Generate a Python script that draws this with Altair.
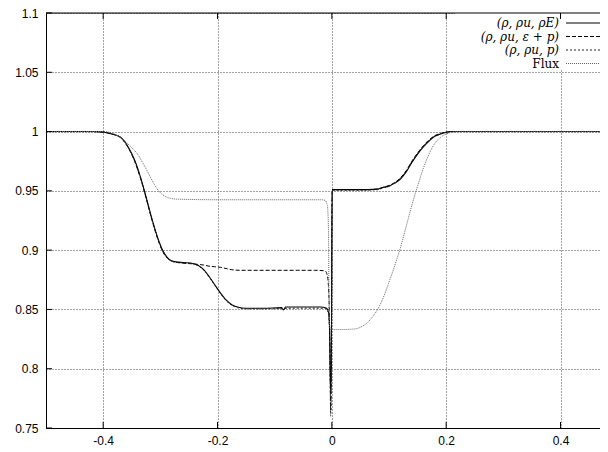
import altair as alt
import pandas as pd

# ---------------- data ----------------
series_names = ["(ρ, ρu, ρE)", "(ρ, ρu, ε + p)", "(ρ, ρu, p)", "Flux"]

s1_x = [-0.5, -0.42, -0.4, -0.385, -0.37, -0.355, -0.345, -0.335, -0.325, -0.315,
        -0.305, -0.295, -0.285, -0.275, -0.26, -0.245, -0.235, -0.225, -0.215, -0.205,
        -0.195, -0.185, -0.175, -0.165, -0.15, -0.12, -0.088, -0.085, -0.083, -0.081,
        -0.05, -0.02, -0.009, -0.006, -0.004, -0.003, -0.002, -0.001, 0.0005, 0.02,
        0.05, 0.08, 0.09, 0.1, 0.11, 0.12, 0.13, 0.14, 0.15, 0.16,
        0.17, 0.18, 0.19, 0.2, 0.21, 0.3, 0.5]
s1_y = [1.0, 1.0, 0.9995, 0.998, 0.9955, 0.986, 0.976, 0.962, 0.945, 0.927,
        0.911, 0.899, 0.8925, 0.8903, 0.8895, 0.889, 0.8875, 0.884, 0.878, 0.871,
        0.864, 0.858, 0.854, 0.852, 0.851, 0.851, 0.8515, 0.8495, 0.8505, 0.852,
        0.852, 0.852, 0.851, 0.848, 0.835, 0.80, 0.78, 0.80, 0.951, 0.951,
        0.951, 0.9515, 0.953, 0.954, 0.9565, 0.960, 0.966, 0.974, 0.981, 0.987,
        0.992, 0.996, 0.998, 0.9995, 1.0, 1.0, 1.0]

s2_x = [-0.5, -0.42, -0.4, -0.385, -0.37, -0.355, -0.345, -0.335, -0.325, -0.315,
        -0.305, -0.295, -0.285, -0.275, -0.26, -0.245, -0.235, -0.225, -0.215, -0.205,
        -0.195, -0.185, -0.175, -0.16, -0.12, -0.06, -0.03, -0.012, -0.008, -0.005,
        -0.003, -0.002, -0.001, 0.0005, 0.02, 0.05, 0.08, 0.09, 0.1, 0.11,
        0.12, 0.13, 0.14, 0.15, 0.16, 0.17, 0.18, 0.19, 0.2, 0.21,
        0.3, 0.5]
s2_y = [1.0, 1.0, 0.9995, 0.998, 0.995, 0.9855, 0.975, 0.961, 0.944, 0.926,
        0.910, 0.898, 0.892, 0.890, 0.889, 0.8885, 0.888, 0.8875, 0.8865, 0.886,
        0.8855, 0.8845, 0.8835, 0.883, 0.883, 0.883, 0.883, 0.8825, 0.879, 0.86,
        0.80, 0.765, 0.80, 0.951, 0.951, 0.951, 0.9515, 0.953, 0.9545, 0.957,
        0.961, 0.967, 0.975, 0.982, 0.988, 0.993, 0.9965, 0.9985, 0.9995, 1.0,
        1.0, 1.0]

s3_x = [-0.5, -0.42, -0.4, -0.385, -0.37, -0.355, -0.345, -0.335, -0.325, -0.315,
        -0.305, -0.295, -0.285, -0.275, -0.26, -0.245, -0.235, -0.225, -0.215, -0.205,
        -0.195, -0.185, -0.175, -0.165, -0.15, -0.12, -0.06, -0.02, -0.009, -0.006,
        -0.004, -0.003, -0.002, -0.001, 0.0005, 0.02, 0.05, 0.08, 0.09, 0.1,
        0.11, 0.12, 0.13, 0.14, 0.15, 0.16, 0.17, 0.18, 0.19, 0.2,
        0.21, 0.3, 0.5]
s3_y = [1.0, 1.0, 0.9995, 0.998, 0.995, 0.9855, 0.9755, 0.9615, 0.9445, 0.9265,
        0.9105, 0.8985, 0.892, 0.8900, 0.8893, 0.8887, 0.887, 0.8835, 0.8775, 0.8705,
        0.8635, 0.8575, 0.8535, 0.8515, 0.8505, 0.8505, 0.851, 0.851, 0.8505, 0.846,
        0.83, 0.79, 0.76, 0.79, 0.9505, 0.9505, 0.9505, 0.951, 0.9525, 0.954,
        0.9565, 0.9605, 0.9665, 0.9745, 0.9815, 0.9875, 0.9925, 0.996, 0.998, 0.9995,
        1.0, 1.0, 1.0]

s4_x = [-0.5, -0.4, -0.39, -0.38, -0.37, -0.36, -0.35, -0.34, -0.33, -0.32,
        -0.31, -0.3, -0.29, -0.28, -0.27, -0.2, -0.1, -0.02, -0.012, -0.008,
        -0.006, -0.005, -0.004, -0.002, 0.01, 0.04, 0.05, 0.06, 0.07, 0.08,
        0.09, 0.1, 0.11, 0.12, 0.13, 0.14, 0.15, 0.16, 0.17, 0.18,
        0.19, 0.2, 0.21, 0.22, 0.5]
s4_y = [1.0, 1.0, 0.9995, 0.998, 0.995, 0.991, 0.9865, 0.981, 0.973, 0.964,
        0.955, 0.9485, 0.945, 0.9435, 0.943, 0.9425, 0.9425, 0.9425, 0.942, 0.938,
        0.92, 0.86, 0.835, 0.833, 0.833, 0.8335, 0.835, 0.838, 0.843, 0.850,
        0.860, 0.873, 0.887, 0.902, 0.920, 0.938, 0.954, 0.969, 0.981, 0.990,
        0.995, 0.998, 0.9995, 1.0, 1.0]

x_ticks = [-0.4, -0.2, 0, 0.2, 0.4]
y_ticks = [0.75, 0.8, 0.85, 0.9, 0.95, 1, 1.05, 1.1]

# ---------------- layout / style ----------------
W, H = 554, 415
XMIN, XMAX = -0.5, -0.5 + W / 571.7
YMIN, YMAX = 0.75, 1.1

series_xy = [(s1_x, s1_y), (s2_x, s2_y), (s3_x, s3_y), (s4_x, s4_y)]
frames = []
for name, (xs, ys) in zip(series_names, series_xy):
    assert len(xs) == len(ys)
    frames.append(pd.DataFrame({"x": xs, "y": ys, "series": name}))
df = pd.concat(frames, ignore_index=True)

styles = [
    dict(stroke="#000000", strokeWidth=1.1),
    dict(stroke="#000000", strokeWidth=1.0, strokeDash=[4, 2]),
    dict(stroke="#222222", strokeWidth=1.0, strokeDash=[2, 2]),
    dict(stroke="#666666", strokeWidth=1.0, strokeDash=[1, 1]),
]

xscale = alt.Scale(domain=[XMIN, XMAX], nice=False, zero=False)
yscale = alt.Scale(domain=[YMIN, YMAX], nice=False, zero=False)

label_font = "Liberation Sans"
xaxis = alt.Axis(values=x_ticks, labelExpr="toString(datum.value)", grid=True,
                 gridDash=[1, 2], gridColor="#444444", gridWidth=1, ticks=False,
                 domain=True, domainColor="#000000", domainWidth=1,
                 labelFont=label_font, labelFontSize=12, labelColor="#000000",
                 labelPadding=7, title=None, labelFlush=False)
yaxis = alt.Axis(values=y_ticks, labelExpr="toString(datum.value)", grid=True,
                 gridDash=[1, 2], gridColor="#444444", gridWidth=1, ticks=False,
                 domain=True, domainColor="#000000", domainWidth=1,
                 labelFont=label_font, labelFontSize=12, labelColor="#000000",
                 labelPadding=8, title=None, labelFlush=False)

X = alt.X("x:Q", scale=xscale, axis=xaxis)
Y = alt.Y("y:Q", scale=yscale, axis=yaxis)

base = alt.Chart(df)
layers = []

# curves
for name, st in zip(series_names, styles):
    layers.append(
        base.transform_filter(alt.datum.series == name)
        .mark_line(clip=True, interpolate="monotone", **st)
        .encode(x=X, y=Y, order="x:Q")
    )

# white box behind the key (hides the grid there)
layers.append(
    alt.Chart(pd.DataFrame({"k": [0]})).mark_rect(color="white")
    .encode(x=alt.value(409), x2=alt.value(W), y=alt.value(0), y2=alt.value(57))
)

# key
leg_df = pd.DataFrame({"label": series_names})
row_y = [10, 23.5, 37, 50.5]
for i, (name, st) in enumerate(zip(series_names, styles)):
    italic = name != "Flux"
    layers.append(
        alt.Chart(leg_df).transform_filter(alt.datum.label == name)
        .mark_text(align="right", baseline="middle", font="DejaVu Serif",
                   fontSize=12, fontStyle="italic" if italic else "normal",
                   color="#000000")
        .encode(text="label:N", x=alt.value(513), y=alt.value(row_y[i]))
    )
    layers.append(
        alt.Chart(leg_df).transform_filter(alt.datum.label == name)
        .mark_rule(**st)
        .encode(x=alt.value(520), x2=alt.value(W), y=alt.value(row_y[i]))
    )

# top border
layers.append(
    alt.Chart(pd.DataFrame({"k": [0]})).mark_rule(color="#000000", strokeWidth=1)
    .encode(x=alt.value(0), x2=alt.value(W), y=alt.value(0))
)

# inward ticks
xt = pd.DataFrame({"x": x_ticks})
yt = pd.DataFrame({"y": y_ticks})
layers.append(alt.Chart(xt).mark_rule(color="#000000")
              .encode(x=X, y=alt.value(H), y2=alt.value(H - 6)))
layers.append(alt.Chart(xt).mark_rule(color="#000000")
              .encode(x=X, y=alt.value(0), y2=alt.value(6)))
layers.append(alt.Chart(yt).mark_rule(color="#000000")
              .encode(y=Y, x=alt.value(0), x2=alt.value(6)))

chart = alt.layer(*layers).properties(
    width=W, height=H,
    autosize=alt.AutoSizeParams(type="none"),
    padding={"left": 38, "top": 5, "right": 0, "bottom": 20},
).configure_view(stroke=None).configure(background="white")

chart.save("out.html", embed_options={"renderer": "svg", "actions": False})
